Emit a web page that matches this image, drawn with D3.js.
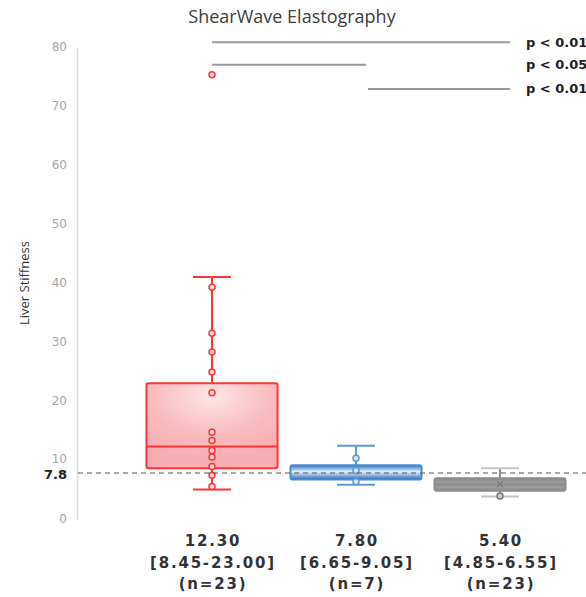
<!DOCTYPE html>
<html>
<head>
<meta charset="utf-8">
<script src="https://cdn.jsdelivr.net/npm/d3@7"></script>
<style>
  body { margin: 0; background: #fff; }
  svg { display: block; }
</style>
</head>
<body>
<svg width="586" height="597"></svg>
<script>
// data
var groups = ['g1', 'g2', 'g3'];
var medians = [12.30, 7.80, 5.40];
var iqrLabelLow = ['8.45', '6.65', '4.85'];
var iqrLabelHigh = ['23.00', '9.05', '6.55'];
var counts = [23, 7, 23];
// drawn boxes / whiskers
var boxLow = [8.6, 6.7, 4.8];
var boxHigh = [23.0, 9.1, 6.9];
var whiskerLow = [5.0, 5.8, 3.8];
var whiskerHigh = [41.0, 12.4, 8.6];
var points = [
    [75.3, 39.3, 31.5, 28.3, 24.9, 21.4, 14.7, 13.3, 11.6, 10.5, 8.9, 7.4, 5.5],
    [10.3, 8.2, 6.3],
    [3.9]
];
var means = [null, null, 5.9];
var cutoff = 7.8;
var yTicks = [0, 10, 20, 30, 40, 50, 60, 70, 80];
// significance bars: from group, to group, level on the y scale, label
var sigFrom = [0, 0, 1];
var sigTo = [2, 1, 2];
var sigLevel = [80.8, 77.0, 72.9];
var sigLabels = ['p < 0.01', 'p < 0.05', 'p < 0.01'];

var colors = ['#ff3434', '#5b9bd5', '#a6a6a6'];
var pointFill = ['#ffd9da', '#d6e6f5', '#cfcfcf'];

var svg = d3.select('svg');

var y = d3.scaleLinear().domain([0, 80]).range([519, 47]);
var x = d3.scaleBand().domain(groups).range([140, 572])
    .paddingInner(0.09).paddingOuter(0.045);
var cx = function(i) { return x(groups[i]) + x.bandwidth() / 2; };

// gradients
var defs = svg.append('defs');
var redGrad = defs.append('radialGradient').attr('id', 'redFill')
    .attr('cx', '50%').attr('cy', '15%').attr('r', '75%');
redGrad.append('stop').attr('offset', '0%').attr('stop-color', '#fde6e7');
redGrad.append('stop').attr('offset', '60%').attr('stop-color', '#f9bcbf');
redGrad.append('stop').attr('offset', '100%').attr('stop-color', '#f7aeb2');

var blueGrad = defs.append('linearGradient').attr('id', 'blueFill')
    .attr('x1', 0).attr('y1', 0).attr('x2', 0).attr('y2', 1);
blueGrad.append('stop').attr('offset', '0%').attr('stop-color', '#2f78c8');
blueGrad.append('stop').attr('offset', '45%').attr('stop-color', '#e4effb');
blueGrad.append('stop').attr('offset', '100%').attr('stop-color', '#2c6fbe');

var grayGrad = defs.append('linearGradient').attr('id', 'grayFill')
    .attr('x1', 0).attr('y1', 0).attr('x2', 0).attr('y2', 1);
[['0%', '#8a8a8a'], ['30%', '#9c9c9c'], ['50%', '#8c8c8c'], ['70%', '#a0a0a0'], ['100%', '#888888']]
    .forEach(function(s) {
        grayGrad.append('stop').attr('offset', s[0]).attr('stop-color', s[1]);
    });
var fills = ['url(#redFill)', 'url(#blueFill)', 'url(#grayFill)'];

// title
svg.append('text')
    .attr('x', 292).attr('y', 23)
    .attr('text-anchor', 'middle')
    .attr('font-family', 'Open Sans, sans-serif')
    .attr('font-size', 18)
    .attr('fill', '#404040')
    .text('ShearWave Elastography');

// y axis
var yAxis = d3.axisLeft(y).tickValues(yTicks).tickSize(0).tickPadding(10);
var yg = svg.append('g').attr('transform', 'translate(77,0)').call(yAxis);
yg.select('.domain').attr('stroke', '#d9d9d9').attr('stroke-width', 1.5);
yg.selectAll('text')
    .attr('font-family', 'DejaVu Sans, sans-serif')
    .attr('font-size', 12)
    .attr('fill', '#a6a6a6');
// keep "10" clear of the cutoff label
yg.selectAll('.tick').filter(function(d) { return d === 10; })
    .select('text').attr('dy', '0.2em');

svg.append('text')
    .attr('transform', 'translate(29,' + 283 + ') rotate(-90)')
    .attr('text-anchor', 'middle')
    .attr('font-family', 'Open Sans, sans-serif')
    .attr('font-size', 13)
    .attr('fill', '#333')
    .text('Liver Stiffness');

// boxes
var boxes = svg.append('g').attr('class', 'boxes');
groups.forEach(function(g, i) {
    var c = cx(i);
    var w = x.bandwidth();
    var capW = 38;
    var col = colors[i];
    var grp = boxes.append('g');
    // whiskers
    grp.append('line')
        .attr('x1', c).attr('x2', c)
        .attr('y1', y(whiskerHigh[i])).attr('y2', y(boxHigh[i]))
        .attr('stroke', i === 2 ? '#8c8c8c' : col).attr('stroke-width', 2);
    grp.append('line')
        .attr('x1', c).attr('x2', c)
        .attr('y1', y(boxLow[i])).attr('y2', y(whiskerLow[i]))
        .attr('stroke', i === 2 ? '#8c8c8c' : col).attr('stroke-width', 2);
    [whiskerHigh[i], whiskerLow[i]].forEach(function(v) {
        grp.append('line')
            .attr('x1', c - capW / 2).attr('x2', c + capW / 2)
            .attr('y1', y(v)).attr('y2', y(v))
            .attr('stroke', i === 2 ? '#c4c4c4' : col).attr('stroke-width', 2);
    });
    // box
    grp.append('rect')
        .attr('x', x(g)).attr('width', w)
        .attr('y', y(boxHigh[i]))
        .attr('height', y(boxLow[i]) - y(boxHigh[i]))
        .attr('rx', 2)
        .attr('fill', fills[i])
        .attr('stroke', i === 2 ? '#8c8c8c' : (i === 1 ? '#4a8ad0' : col))
        .attr('stroke-width', 2);
    // median
    grp.append('line')
        .attr('x1', x(g)).attr('x2', x(g) + w)
        .attr('y1', y(medians[i])).attr('y2', y(medians[i]))
        .attr('stroke', i === 0 ? col : 'none').attr('stroke-width', 2);
    // points
    grp.selectAll('circle').data(points[i]).enter().append('circle')
        .attr('cx', c).attr('cy', function(d) { return y(d); })
        .attr('r', 3)
        .attr('fill', pointFill[i])
        .attr('stroke', i === 2 ? '#777' : col)
        .attr('stroke-width', 1.5);
    if (means[i] !== null) {
        var my = y(means[i]);
        grp.append('path')
            .attr('d', 'M' + (c - 3) + ',' + (my - 3) + 'L' + (c + 3) + ',' + (my + 3) +
                'M' + (c + 3) + ',' + (my - 3) + 'L' + (c - 3) + ',' + (my + 3))
            .attr('stroke', '#777').attr('stroke-width', 1.2);
    }
});

// cutoff dashed line
svg.append('line')
    .attr('x1', 78).attr('x2', 586)
    .attr('y1', y(cutoff)).attr('y2', y(cutoff))
    .attr('stroke', '#555').attr('stroke-width', 1.2)
    .attr('stroke-dasharray', '5,4');
svg.append('text')
    .attr('x', 67).attr('y', y(cutoff)).attr('dy', '0.45em')
    .attr('text-anchor', 'end')
    .attr('font-family', 'DejaVu Sans, sans-serif')
    .attr('font-weight', 'bold')
    .attr('font-size', 13)
    .attr('fill', '#222')
    .text(cutoff.toFixed(1));

// significance bars
var sig = svg.append('g').attr('class', 'sig');
sigLabels.forEach(function(lbl, k) {
    var yy = y(sigLevel[k]);
    var x1 = cx(sigFrom[k]) + (sigFrom[k] > 0 ? 12 : 0);
    var x2 = cx(sigTo[k]) + 10;
    sig.append('line')
        .attr('x1', x1).attr('x2', x2)
        .attr('y1', yy).attr('y2', yy)
        .attr('stroke', '#9a9a9a').attr('stroke-width', 2);
    sig.append('text')
        .attr('x', 526).attr('y', yy).attr('dy', '0.35em')
        .attr('font-family', 'DejaVu Sans, sans-serif')
        .attr('font-weight', 'bold')
        .attr('font-size', 13)
        .attr('fill', '#222')
        .text(lbl);
});

// category labels
var labels = svg.append('g').attr('class', 'catLabels');
groups.forEach(function(g, i) {
    var lines = [
        medians[i].toFixed(2),
        '[' + iqrLabelLow[i] + '-' + iqrLabelHigh[i] + ']',
        '(n=' + counts[i] + ')'
    ];
    var t = labels.append('text')
        .attr('text-anchor', 'middle')
        .attr('font-family', 'DejaVu Sans, sans-serif')
        .attr('font-weight', 'bold')
        .attr('font-size', 15)
        .attr('letter-spacing', 1.8)
        .attr('fill', '#333');
    lines.forEach(function(s, k) {
        t.append('tspan')
            .attr('x', cx(i) + 1)
            .attr('y', 546 + k * 21.5)
            .text(s);
    });
});
</script>
</body>
</html>
